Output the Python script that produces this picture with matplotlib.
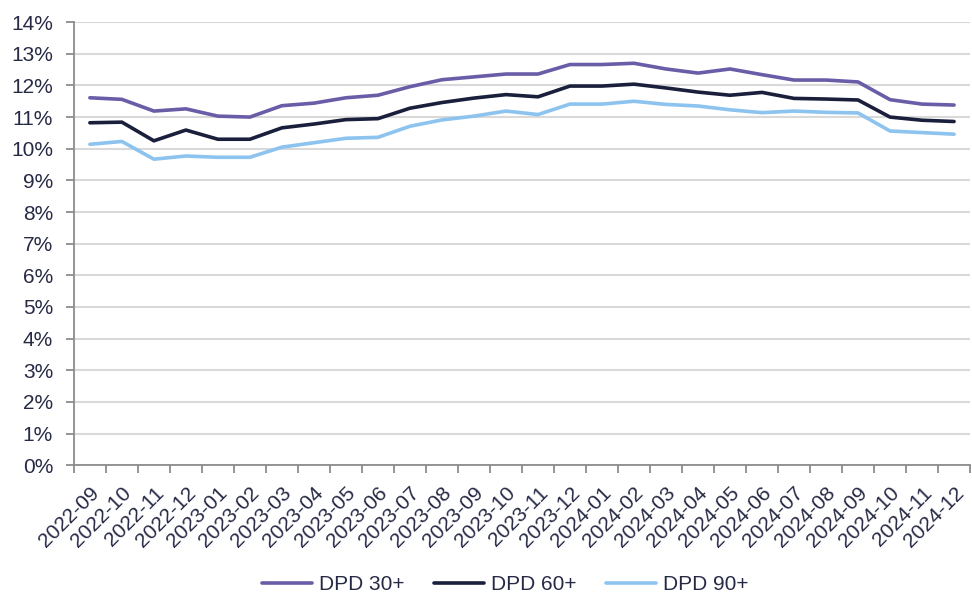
import matplotlib.pyplot as plt
import matplotlib.ticker as mticker
import numpy as np

plt.rcParams['font.family'] = ['Liberation Sans', 'DejaVu Sans']

months = ['2022-09', '2022-10', '2022-11', '2022-12', '2023-01', '2023-02', '2023-03',
          '2023-04', '2023-05', '2023-06', '2023-07', '2023-08', '2023-09', '2023-10',
          '2023-11', '2023-12', '2024-01', '2024-02', '2024-03', '2024-04', '2024-05',
          '2024-06', '2024-07', '2024-08', '2024-09', '2024-10', '2024-11', '2024-12']

dpd30 = [11.61, 11.56, 11.19, 11.26, 11.03, 11.00, 11.36, 11.44, 11.61, 11.69, 11.96, 12.18, 12.27, 12.36,
         12.36, 12.66, 12.66, 12.70, 12.52, 12.39, 12.52, 12.34, 12.17, 12.17, 12.11, 11.55, 11.41, 11.38]
dpd60 = [10.82, 10.84, 10.25, 10.59, 10.30, 10.30, 10.66, 10.78, 10.92, 10.95, 11.28, 11.46, 11.60, 11.71,
         11.64, 11.98, 11.98, 12.04, 11.92, 11.79, 11.69, 11.78, 11.59, 11.57, 11.54, 11.00, 10.90, 10.86]
dpd90 = [10.14, 10.23, 9.67, 9.77, 9.73, 9.73, 10.05, 10.19, 10.33, 10.36, 10.71, 10.91, 11.03, 11.19,
         11.08, 11.41, 11.41, 11.50, 11.40, 11.35, 11.23, 11.14, 11.19, 11.15, 11.13, 10.56, 10.51, 10.46]

text_col = '#262a45'
fig = plt.figure(figsize=(9.72, 5.98), dpi=100)
ax = fig.add_axes([0.076, 0.222, 0.922, 0.741])

x = np.arange(len(months))
ax.plot(x, dpd30, color='#6b5ca8', lw=2.6, label='DPD 30+', solid_capstyle='round')
ax.plot(x, dpd60, color='#1a1f3c', lw=2.6, label='DPD 60+', solid_capstyle='round')
ax.plot(x, dpd90, color='#8cc3ef', lw=2.6, label='DPD 90+', solid_capstyle='round')

ax.set_ylim(0, 14)
ax.set_xlim(-0.5, len(months) - 0.5)
ax.yaxis.set_major_locator(mticker.MultipleLocator(1))
ax.yaxis.set_major_formatter(mticker.FuncFormatter(lambda v, p: f'{v:.0f}%'))
ax.grid(axis='y', color='#d9d9d9', lw=1.5)
ax.set_axisbelow(True)

ax.set_xticks(x)
ax.set_xticklabels(months, rotation=45, ha='right', rotation_mode='anchor')
ax.set_xticks(np.arange(len(months) + 1) - 0.5, minor=True)
ax.tick_params(axis='x', which='major', length=0, pad=13)
ax.tick_params(axis='x', which='minor', length=6, color='#8c8c8c', width=1.3)
ax.tick_params(axis='y', length=6, color='#8c8c8c', width=1.3, pad=9)
ax.tick_params(labelsize=15, labelcolor=text_col)

for s in ['top', 'right']:
    ax.spines[s].set_visible(False)
for s in ['left', 'bottom']:
    ax.spines[s].set_color('#8c8c8c')
    ax.spines[s].set_linewidth(1.3)

leg = fig.legend(loc='lower center', bbox_to_anchor=(0.52, -0.025), ncol=3, frameon=False,
                 fontsize=15, handlelength=2.4, handletextpad=0.35, columnspacing=1.4,
                 labelcolor=text_col)

fig.savefig('out.png', dpi=100)
